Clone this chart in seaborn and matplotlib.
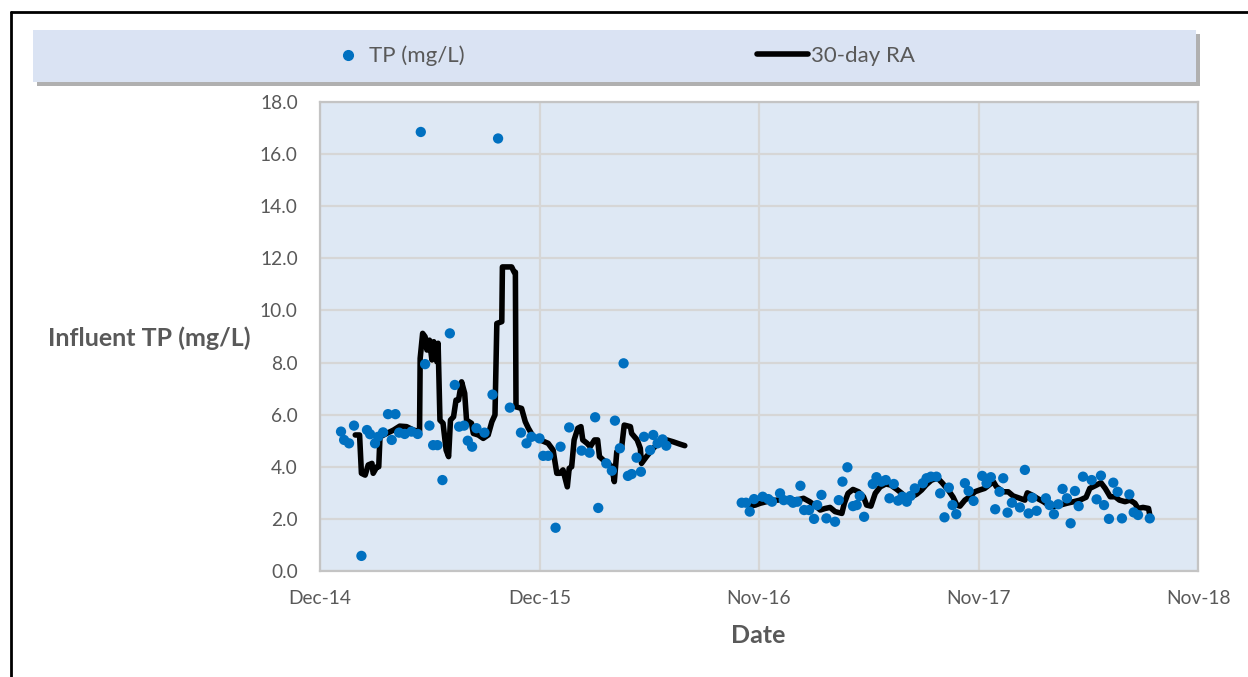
import numpy as np
import pandas as pd
import matplotlib.pyplot as plt
import matplotlib.dates as mdates
from matplotlib.lines import Line2D
from matplotlib.patches import Rectangle
import seaborn as sns

# --- data (days counted from 15 Dec 2014) ---
tp_day = [34, 39, 47, 55, 67, 76, 81, 89, 94, 102, 110, 116, 122, 128, 137, 148, 158, 163, 170, 177,
          183, 190, 198, 210, 218, 225, 233, 239, 246, 253, 266, 279, 288, 307, 325, 334, 342, 355, 361, 369,
          381, 389, 403, 423, 436, 445, 450, 463, 472, 477, 485, 491, 498, 504, 512, 519, 524, 534, 539, 546,
          554, 560,
          682, 689, 695, 702, 716, 725, 731, 744, 750, 760, 765, 772, 777, 783, 791, 799, 804, 811, 819, 833,
          839, 845, 853, 862, 868, 873, 880, 894, 900, 908, 915, 921, 928, 935, 942, 949, 955, 962, 975, 981,
          988, 997, 1003, 1010, 1017, 1023, 1029, 1043, 1049, 1057, 1071, 1078, 1085, 1092, 1099, 1105, 1112,
          1119, 1132, 1140, 1146, 1152, 1159, 1174, 1180, 1187, 1194, 1201, 1208, 1214, 1221, 1227, 1234,
          1248, 1256, 1263, 1268, 1276, 1283, 1290, 1297, 1309, 1316, 1323, 1342]
tp_val = [5.35, 5.03, 4.9, 5.58, 0.58, 5.41, 5.25, 4.9, 5.15, 5.32, 6.02, 5.03, 6.02, 5.31, 5.26, 5.35, 5.26, 16.85, 7.94, 5.58,
          4.83, 4.83, 3.49, 9.12, 7.14, 5.54, 5.58, 5.0, 4.77, 5.48, 5.31, 6.77, 16.6, 6.27, 5.31, 4.9, 5.15, 5.09, 4.42, 4.42,
          1.66, 4.77, 5.51, 4.62, 4.54, 5.9, 2.42, 4.13, 3.85, 5.77, 4.71, 7.97, 3.65, 3.72, 4.35, 3.81, 5.15, 4.64, 5.22, 4.9,
          5.05, 4.81,
          2.62, 2.62, 2.28, 2.76, 2.85, 2.76, 2.66, 2.98, 2.72, 2.72, 2.62, 2.66, 3.27, 2.34, 2.34, 2.0, 2.53, 2.92, 2.02, 1.89,
          2.72, 3.43, 3.98, 2.49, 2.53, 2.88, 2.08, 3.34, 3.6, 3.43, 3.49, 2.79, 3.34, 2.7, 2.85, 2.66, 2.88, 3.17, 3.37, 3.56,
          3.62, 3.62, 2.98, 2.06, 3.2, 2.53, 2.18, 3.37, 3.07, 2.69, 3.65, 3.37, 3.6, 2.37, 3.04, 3.56, 2.24,
          2.62, 2.44, 3.88, 2.21, 2.81, 2.31, 2.79, 2.53, 2.18, 2.56, 3.15, 2.79, 1.83, 3.07, 2.49, 3.62,
          3.49, 2.75, 3.66, 2.53, 2.0, 3.39, 3.04, 2.02, 2.94, 2.25, 2.15, 2.02]

# 30-day running average, first period
ra1_day = [57, 64, 67, 73, 78, 84, 86, 92, 95, 97, 108, 119, 129, 140, 151, 161, 162, 166, 170, 173,
           177, 181, 184, 189, 191, 194, 199, 204, 208, 211, 216, 220, 224, 229, 234, 237, 245, 248, 256, 264,
           272, 278, 283, 286, 294, 295, 310, 314, 316, 317, 326, 332, 337, 345, 356, 369, 377, 383, 388, 393,
           400, 403, 407, 411, 417, 422, 425, 432, 437, 444, 449, 452, 458, 466, 472, 476, 480, 488, 492, 502,
           504, 513, 518, 520, 528, 539, 550, 561, 571, 582, 590]
ra1_val = [5.22, 5.22, 3.75, 3.68, 4.07, 4.13, 3.75, 4.0, 4.0, 5.15, 5.28, 5.41, 5.56, 5.54, 5.41, 5.35, 8.16, 9.12, 8.99, 8.48,
           8.86, 8.1, 8.8, 8.03, 8.74, 5.79, 5.67, 4.64, 4.39, 5.79, 5.92, 6.56, 6.56, 7.26, 6.82, 5.79, 5.67, 5.28, 5.22, 5.09,
           5.22, 5.73, 5.99, 9.5, 9.57, 11.67, 11.67, 11.47, 11.47, 6.3, 6.24, 5.73, 5.48, 5.15, 5.03, 4.9, 4.64, 3.75, 3.75, 3.88,
           3.23, 3.94, 4.0, 5.03, 5.48, 5.54, 5.03, 4.9, 4.77, 5.03, 5.03, 4.39, 4.26, 4.13, 4.0, 3.43, 4.58, 4.77, 5.6, 5.54,
           5.28, 5.03, 4.71, 4.13, 4.39, 4.71, 4.96, 5.03, 4.96, 4.87, 4.81]

# 30-day running average, second period
ra2_day = [695, 704, 712, 722, 739, 755, 771, 782, 792, 803, 809, 817, 825, 833, 844, 848, 854, 862, 871, 879,
           884, 891, 898, 906, 915, 923, 933, 941, 949, 957, 965, 973, 980, 989, 999, 1006, 1016, 1024, 1030, 1035,
           1043, 1051, 1059, 1067, 1075, 1082, 1089, 1094, 1105, 1113, 1121, 1132, 1140, 1144, 1151, 1160, 1170, 1178,
           1186, 1197, 1208, 1219, 1229, 1239, 1245, 1256, 1263, 1270, 1278, 1286, 1293, 1302, 1310, 1318, 1323, 1331,
           1340, 1342]
ra2_val = [2.49, 2.53, 2.6, 2.66, 2.72, 2.75, 2.72, 2.79, 2.66, 2.47, 2.34, 2.4, 2.44, 2.28, 2.21, 2.6, 2.98, 3.13, 3.04, 2.85,
           2.53, 2.49, 2.98, 3.23, 3.34, 3.3, 3.13, 2.98, 2.79, 2.85, 2.95, 3.11, 3.3, 3.49, 3.56, 3.39, 3.11, 2.83, 2.53, 2.49,
           2.72, 2.85, 3.04, 3.11, 3.17, 3.3, 3.43, 3.23, 3.04, 3.04, 2.88, 2.79, 2.72, 3.0, 2.92, 2.79, 2.66, 2.53,
           2.47, 2.53, 2.6, 2.66, 2.72, 2.83, 3.17, 3.3, 3.39, 3.17, 2.85, 2.85, 2.72, 2.66, 2.72, 2.6, 2.4, 2.44,
           2.4, 2.15]

start = pd.Timestamp("2014-12-15")
tick_step = 355  # Excel date axis major unit (days)
y_ticks = np.arange(0, 18.1, 2.0)

df_tp = pd.DataFrame({"date": start + pd.to_timedelta(tp_day, unit="D"), "tp": tp_val})
df_ra = pd.concat([
    pd.DataFrame({"date": start + pd.to_timedelta(ra1_day, unit="D"), "ra": ra1_val, "seg": 1}),
    pd.DataFrame({"date": start + pd.to_timedelta(ra2_day, unit="D"), "ra": ra2_val, "seg": 2}),
])

sns.set_theme(style="whitegrid")
plt.rcParams["font.family"] = ["Lato", "DejaVu Sans"]

grey_txt = "#595959"
fig = plt.figure(figsize=(12.48, 6.77), dpi=100)
ax = fig.add_axes([320 / 1248, 1 - 571 / 677, 878 / 1248, 469 / 677])
ax.set_facecolor("#dee8f4")

sns.lineplot(data=df_ra, x="date", y="ra", units="seg", estimator=None, ax=ax,
             color="black", lw=4.0, zorder=2)
sns.scatterplot(data=df_tp, x="date", y="tp", ax=ax, color="#0070c0", s=55,
                edgecolor="none", zorder=3)

# axes
ax.set_ylim(0, 18)
ax.set_yticks(y_ticks)
ax.yaxis.set_major_formatter(plt.FormatStrFormatter("%.1f"))
x_ticks = [start + pd.Timedelta(days=tick_step * k) for k in range(5)]
ax.set_xlim(x_ticks[0], x_ticks[-1])
ax.set_xticks(x_ticks)
ax.xaxis.set_major_formatter(mdates.DateFormatter("%b-%y"))
ax.tick_params(axis="both", length=0, labelsize=13.8, labelcolor=grey_txt)
ax.tick_params(axis="y", pad=16)
ax.tick_params(axis="x", pad=14)
ax.grid(True, color="#d6d6d6", lw=1.6)
for sp in ax.spines.values():
    sp.set_color("#c4c4c4")
    sp.set_linewidth(1.6)

ax.set_ylabel("Influent TP (mg/L)", rotation=0, fontsize=18, fontweight="bold",
              color=grey_txt, ha="center", va="center")
ax.yaxis.set_label_coords(-0.1948, 0.497)
ax.set_xlabel("Date", fontsize=18, fontweight="bold", color=grey_txt, ha="center", va="center")
ax.xaxis.set_label_coords(0.499, -0.1365)

# legend band across the top
fig.add_artist(Rectangle((37 / 1248, 1 - 86 / 677), 1163 / 1248, 52 / 677, transform=fig.transFigure,
                         facecolor="#b0b0b0", edgecolor="none", zorder=0))
fig.add_artist(Rectangle((33 / 1248, 1 - 82 / 677), 1163 / 1248, 52 / 677, transform=fig.transFigure,
                         facecolor="#dae3f3", edgecolor="none", zorder=1))
h_dot = Line2D([], [], ls="none", marker="o", ms=7, color="#0070c0")
h_line = Line2D([], [], color="black", lw=4.0)
leg1 = fig.legend([h_dot], ["TP (mg/L)"], loc="center left", bbox_to_anchor=(339 / 1248, 1 - 56 / 677),
                  frameon=False, borderpad=0, borderaxespad=0, handlelength=0.8, handletextpad=0.55,
                  fontsize=16, labelcolor=grey_txt)
leg2 = fig.legend([h_line], ["30-day RA"], loc="center left", bbox_to_anchor=(757 / 1248, 1 - 56 / 677),
                  frameon=False, borderpad=0, borderaxespad=0, handlelength=2.3, handletextpad=0.15,
                  fontsize=16, labelcolor=grey_txt)
leg1.set_zorder(5)
leg2.set_zorder(5)

# outer chart frame (left and top edges visible)
fig.add_artist(Line2D([11 / 1248, 11 / 1248], [0, 1 - 12 / 677], color="black", lw=2, transform=fig.transFigure))
fig.add_artist(Line2D([11 / 1248, 1], [1 - 12 / 677, 1 - 12 / 677], color="black", lw=2, transform=fig.transFigure))

fig.savefig("out.png", dpi=100)
plt.close(fig)
